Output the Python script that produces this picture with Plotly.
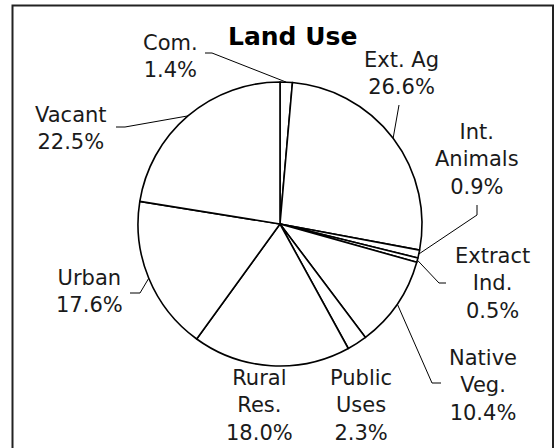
import math
import plotly.graph_objects as go

# ---- data ----
categories = ["Com.", "Ext. Ag", "Int. Animals", "Extract Ind.", "Native Veg.",
              "Public Uses", "Rural Res.", "Urban", "Vacant"]
label_lines = ["Com.", "Ext. Ag", "Int.<br>Animals", "Extract<br>Ind.", "Native<br>Veg.",
               "Public<br>Uses", "Rural<br>Res.", "Urban", "Vacant"]
shares = [1.4, 26.6, 0.9, 0.5, 10.4, 2.3, 18.0, 17.6, 22.5]

# ---- layout constants (pixels) ----
W, H = 560, 448
CX, CY, R = 280, 224, 142
FONT = "DejaVu Sans"
label_pos = [(170, 56), (401, 74), (477, 159), (492, 283), (483, 385),
             (361, 405), (259, 405), (89, 291), (71, 128)]
# leader line waypoints after the anchor on the circle (None = no leader)
leader_pts = [[(212, 53), (205, 53)], [(399, 105)], [(477, 215), (477, 205)],
              [(439, 283), (446, 283)], [(432, 383), (441, 383)],
              None, None, [(140, 293), (130, 293)], [(125, 127), (116, 127)]]


def px(x):
    return x / W


def py(y):
    return 1 - y / H


fig = go.Figure(go.Pie(
    labels=categories, values=shares, sort=False, direction="clockwise",
    rotation=0, textinfo="none", hoverinfo="label+percent",
    marker=dict(colors=["white"] * len(shares), line=dict(color="black", width=1.6)),
    domain=dict(x=[px(CX - R), px(CX + R)], y=[py(CY + R), py(CY - R)]),
    showlegend=False,
))

total = sum(shares)
cum = 0.0
annotations = []
shapes = []
for i, v in enumerate(shares):
    mid = (cum + v / 2) / total * 2 * math.pi
    cum += v
    ax = CX + R * math.sin(mid)
    ay = CY - R * math.cos(mid)
    lx, ly = label_pos[i]
    annotations.append(dict(
        x=px(lx), y=py(ly), xref="paper", yref="paper",
        text=f"{label_lines[i]}<br>{v:.1f}%", showarrow=False,
        xanchor="center", yanchor="middle", align="center",
        font=dict(family=FONT, size=21, color="#1a1a1a"),
    ))
    if leader_pts[i]:
        pts = [(ax, ay)] + leader_pts[i]
        path = "M " + " L ".join(f"{px(x)},{py(y)}" for x, y in pts)
        shapes.append(dict(type="path", path=path, xref="paper", yref="paper",
                           line=dict(color="black", width=1)))

annotations.append(dict(
    x=px(292), y=py(37), xref="paper", yref="paper", text="<b>Land Use</b>",
    showarrow=False, xanchor="center", yanchor="middle",
    font=dict(family=FONT, size=25, color="black"),
))

# chart frame
shapes.append(dict(type="rect", xref="paper", yref="paper",
                   x0=px(12.5), x1=px(553), y0=py(460), y1=py(5.5),
                   line=dict(color="#222222", width=2), fillcolor="rgba(0,0,0,0)"))

fig.update_layout(
    width=W, height=H, margin=dict(l=0, r=0, t=0, b=0),
    paper_bgcolor="white", plot_bgcolor="white",
    annotations=annotations, shapes=shapes,
)

fig.write_html("out.html", config={"displayModeBar": False},
               post_script="document.body.style.margin='0px';document.body.style.overflow='hidden';")
